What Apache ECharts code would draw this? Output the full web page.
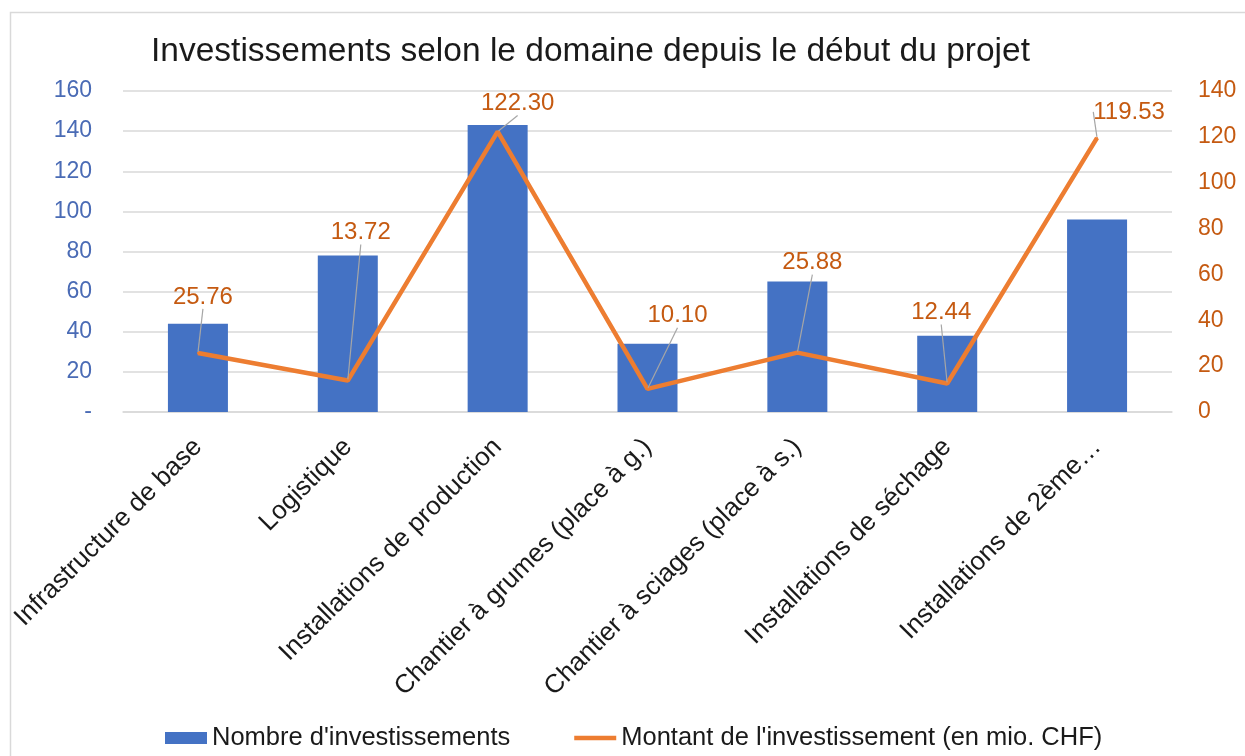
<!DOCTYPE html>
<html>
<head>
<meta charset="utf-8">
<script src="https://cdn.jsdelivr.net/npm/echarts@6/dist/echarts.min.js"></script>
<style>
html,body{margin:0;padding:0;background:#fff;}
#chart{width:1245px;height:756px;}
</style>
</head>
<body>
<div id="chart"></div>
<script>
const titleText = "Investissements selon le domaine depuis le début du projet";
const categories = [
  "Infrastructure de base",
  "Logistique",
  "Installations de production",
  "Chantier à grumes (place à g.)",
  "Chantier à sciages (place à s.)",
  "Installations de séchage",
  "Installations de 2ème…"
];
const countName = "Nombre d'investissements";
const amountName = "Montant de l'investissement (en mio. CHF)";
const countValues = [44, 78, 143, 34, 65, 38, 96];
const amountValues = [25.76, 13.72, 122.30, 10.10, 25.88, 12.44, 119.53];
const leftTicks = { min: 0, max: 160, interval: 20 };
const rightTicks = { min: 0, max: 140, interval: 20 };

// label displacement (style, px)
const labelShift = [[5,-38],[13,-130],[20,-10],[30,-55],[15,-72],[-6,-53],[32,-8]];

const FONT = "'Liberation Sans', Arial, sans-serif";
const chart = echarts.init(document.getElementById('chart'));
chart.setOption({
  animation: false,
  backgroundColor: '#ffffff',
  graphic: [{
    type: 'rect', left: 8, top: 10, silent: true,
    shape: { width: 1260, height: 770 },
    style: { fill: 'none', stroke: '#d9d9d9', lineWidth: 1.5 }
  }],
  title: {
    text: titleText, left: 146, top: 30,
    textStyle: { fontFamily: FONT, fontSize: 33.5, fontWeight: 'normal', color: '#1a1a1a' }
  },
  legend: {
    left: 160, top: 720,
    itemWidth: 42, itemHeight: 12, itemGap: 64,
    symbolKeepAspect: true,
    textStyle: { fontFamily: FONT, fontSize: 25.5, color: '#1a1a1a' },
    data: [
      { name: countName, icon: 'rect' },
      { name: amountName, icon: 'path://M0,0H42V4.5H0Z', itemStyle: { color: '#ed7d31' } }
    ]
  },
  grid: { left: 123, right: 73, top: 91, bottom: 344, containLabel: false },
  xAxis: {
    type: 'category', data: categories,
    axisLine: { lineStyle: { color: '#d9d9d9', width: 1.5 } },
    axisTick: { show: false },
    axisLabel: { rotate: 45, interval: 0, margin: 31, fontFamily: FONT, fontSize: 26, color: '#1a1a1a' }
  },
  yAxis: [{
    type: 'value', min: leftTicks.min, max: leftTicks.max, interval: leftTicks.interval,
    axisLine: { show: false }, axisTick: { show: false },
    splitLine: { lineStyle: { color: '#d9d9d9', width: 1.5 } },
    axisLabel: { margin: 31, fontFamily: FONT, fontSize: 23, color: '#4a6bb5',
      formatter: v => v === 0 ? '-' : String(v) }
  }, {
    type: 'value', min: rightTicks.min, max: rightTicks.max, interval: rightTicks.interval,
    axisLine: { show: false }, axisTick: { show: false }, splitLine: { show: false },
    alignTicks: false,
    axisLabel: { margin: 26, fontFamily: FONT, fontSize: 23, color: '#c55a11' }
  }],
  series: [{
    name: countName, type: 'bar', data: countValues, yAxisIndex: 0,
    barWidth: 60,
    itemStyle: { color: '#4472c4' }
  }, {
    name: amountName, type: 'line', data: amountValues, yAxisIndex: 1,
    symbol: 'circle', symbolSize: 2, showSymbol: true,
    itemStyle: { color: '#ed7d31' },
    lineStyle: { color: '#ed7d31', width: 4.5 },
    label: {
      show: true, position: 'top', distance: 5,
      fontFamily: FONT, fontSize: 24, color: '#c55a11',
      formatter: p => p.value.toFixed(2)
    },
    labelLine: { show: true, lineStyle: { color: '#a6a6a6', width: 1.2 } },
    labelLayout: p => ({ dx: labelShift[p.dataIndex][0], dy: labelShift[p.dataIndex][1] }),
    z: 5
  }]
});
</script>
</body>
</html>
